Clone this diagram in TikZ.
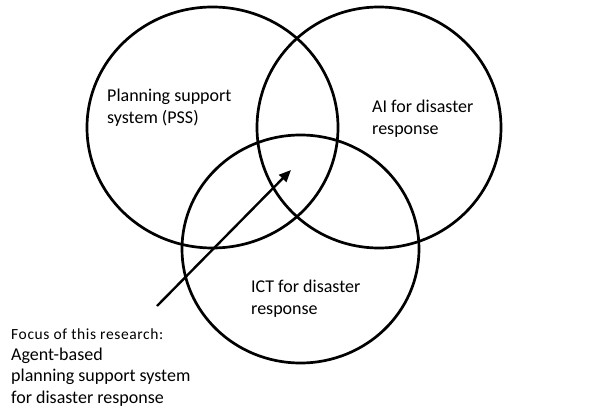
\documentclass[tikz,border=0pt]{standalone}
\usepackage{fontspec}
\setmainfont{Carlito}
\usetikzlibrary{arrows.meta}
\begin{document}
\begin{tikzpicture}[x=1pt,y=-1pt,
  ring/.style={line width=2.7pt},
  lbl/.style={anchor=base west,inner sep=0pt,font=\fontsize{18}{21.7}\selectfont},
  small/.style={anchor=base west,inner sep=0pt,font=\fontsize{15.5}{18}\selectfont},
  pointer/.style={line width=2.4pt,-{Triangle[length=12pt,width=10pt]}}]
\useasboundingbox (0,0) rectangle (599,419);
\fill[white] (0,0) rectangle (599,419);
\draw[ring] (212.5,127.5) ellipse [x radius=125.5pt, y radius=120.5pt];
\draw[ring] (379,127.5) ellipse [x radius=122pt, y radius=120.5pt];
\draw[ring] (300.5,249) ellipse [x radius=118.5pt, y radius=114pt];
\node[lbl] (pss1) at (107,102) {Planning support};
\node[lbl] (pss2) at (107,123.7) {system (PSS)};
\node[lbl] (ai1) at (372,112.7) {AI for disaster};
\node[lbl] (ai2) at (372,134.4) {response};
\node[lbl] (ict1) at (251,292.3) {ICT for disaster};
\node[lbl] (ict2) at (251,314) {response};
\node[small] (f0) at (11,339.3) {\addfontfeatures{LetterSpace=4}Focus of this research:};
\node[lbl] (f1) at (11,360) {Agent-based};
\node[lbl] (f2) at (11,381.7) {planning support system};
\node[lbl] (f3) at (11,403.4) {for disaster response};
\coordinate (tail) at (157,306);
\coordinate (tip) at (291,170);
\draw[pointer] (tail) -- (tip);
\end{tikzpicture}
\end{document}
